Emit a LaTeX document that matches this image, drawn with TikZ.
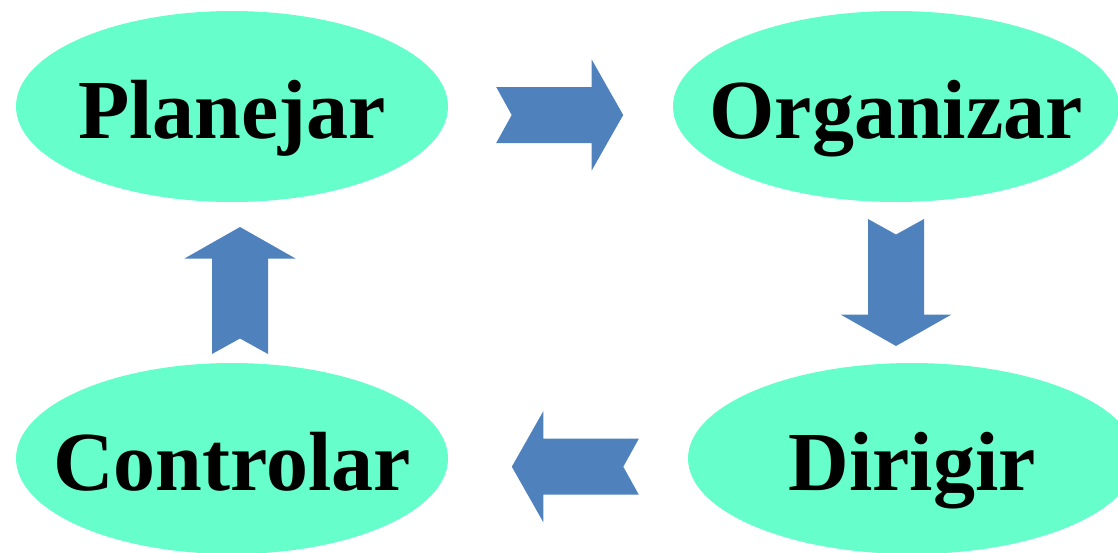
\documentclass[tikz,border=0pt]{standalone}
\usepackage{fontspec}
\setmainfont{Liberation Serif}
\usetikzlibrary{shapes.geometric}

\definecolor{blobgreen}{RGB}{102,255,204}
\definecolor{arrowblue}{RGB}{79,129,189}

\tikzset{
  blob/.style={ellipse, fill=blobgreen, inner sep=0pt, minimum width=432pt, minimum height=191pt},
  word/.style={font=\fontsize{84}{90}\selectfont\bfseries, inner sep=0pt, text height=63pt, text depth=0pt},
  pics/fatarrow/.style={code={
    \fill[arrowblue] (-63.5,-28) -- (32,-28) -- (32,-55.5) -- (63.5,0) -- (32,55.5)
      -- (32,28) -- (-63.5,28) -- (-48,0) -- cycle;
  }}
}

\begin{document}
\begin{tikzpicture}[x=1pt, y=-1pt]
\clip (0,0) rectangle (1118,552);

% Ellipses
\node[blob] (plan) at (232,106.5) {};
\node[blob, minimum width=446pt] (org) at (896,106.5) {};
\node[blob, minimum width=448pt] (dir) at (912,458.5) {};
\node[blob] (ctrl) at (232,458.5) {};

% Labels
\node[word] (plantxt) at (plan) {Planejar};
\node[word] (orgtxt) at (org) {Organizar};
\node[word] (dirtxt) at (dir) {Dirigir};
\node[word] (ctrltxt) at (ctrl) {Controlar};

% Block arrows
\pic (planorg) at (559.7,115) {fatarrow};
\pic[rotate=-90] (orgdir) at (896,282.5) {fatarrow};
\pic[rotate=180] (dirctrl) at (575.3,466.7) {fatarrow};
\pic[rotate=90] (ctrlplan) at (240,290.5) {fatarrow};

\end{tikzpicture}
\end{document}
